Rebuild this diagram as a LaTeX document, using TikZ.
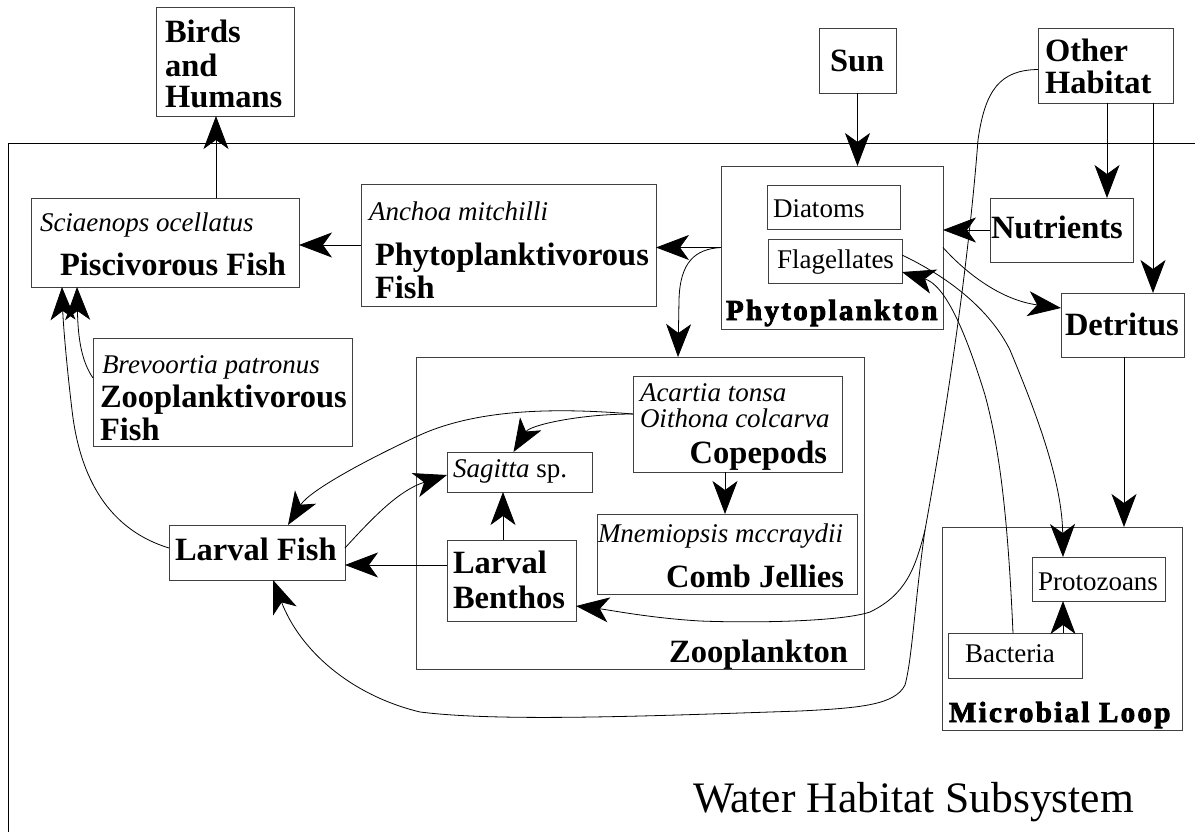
\documentclass[tikz,border=0pt]{standalone}
\usepackage{fontspec}
\setmainfont{Liberation Serif}
\newfontfamily\heavyfont{Liberation Serif}[FakeBold=3,LetterSpace=8]
\usetikzlibrary{arrows.meta}
\tikzset{
  box/.style={draw=black!75, line width=0.9pt, inner sep=0pt, outer sep=0pt},
  lbl/.style={anchor=base west, inner sep=0pt, outer sep=0pt},
  lble/.style={anchor=base east, inner sep=0pt, outer sep=0pt},
  bt/.style={font=\fontsize{32.5}{32}\selectfont\bfseries},
  it/.style={font=\fontsize{27}{27}\selectfont\itshape},
  rm/.style={font=\fontsize{27}{27}\selectfont},
  hv/.style={font=\heavyfont\bfseries\fontsize{29}{29}\selectfont},
  bigtip/.tip={Stealth[length=33pt 0 0,width=25pt 0 0,inset=9pt 0 0]},
  flow/.style={draw=black, line width=0.8pt, arrows={-bigtip}},
  frame/.style={draw=black, line width=0.9pt},
}
\begin{document}
\begin{tikzpicture}[x=1pt,y=-1pt]
\useasboundingbox (0,0) rectangle (1195,832);
% water habitat frame
\draw[frame] (8,832) -- (8,143) -- (1195,143);
\node[lbl, font=\fontsize{43.5}{43}\selectfont] (water) at (693,812) {Water Habitat Subsystem};

% boxes
\node[box, minimum width=138pt, minimum height=109pt] (birds) at (225,61.5) {};
\node[box, minimum width=77pt, minimum height=65pt] (sun) at (857.5,60.5) {};
\node[box, minimum width=135pt, minimum height=75pt] (other) at (1105.5,65.5) {};
\node[box, minimum width=268pt, minimum height=89pt] (pisc) at (165,242.5) {};
\node[box, minimum width=295pt, minimum height=122pt] (phytofish) at (508.5,245) {};
\node[box, minimum width=222pt, minimum height=163pt] (phyto) at (832,247.5) {};
\node[box, minimum width=133pt, minimum height=44pt] (diatoms) at (833.5,207) {};
\node[box, minimum width=134pt, minimum height=44pt] (flag) at (835,261) {};
\node[box, minimum width=143pt, minimum height=64pt] (nutr) at (1061.5,230) {};
\node[box, minimum width=123pt, minimum height=64pt] (detritus) at (1122.5,325) {};
\node[box, minimum width=259pt, minimum height=108pt] (zoofish) at (222.5,392) {};
\node[box, minimum width=448pt, minimum height=312pt] (zoopl) at (640,513) {};
\node[box, minimum width=209pt, minimum height=96pt] (cope) at (737.5,424) {};
\node[box, minimum width=145pt, minimum height=40pt] (sagitta) at (519.5,472) {};
\node[box, minimum width=260pt, minimum height=80pt] (comb) at (727,554) {};
\node[box, minimum width=129pt, minimum height=81pt] (benthos) at (511.5,580.5) {};
\node[box, minimum width=176pt, minimum height=55pt] (larvalfish) at (257,552.5) {};
\node[box, minimum width=240pt, minimum height=203pt] (microbial) at (1062,628.5) {};
\node[box, minimum width=133pt, minimum height=44pt] (proto) at (1098.5,579) {};
\node[box, minimum width=134pt, minimum height=45pt] (bacteria) at (1015,655.5) {};

% texts
\node[lbl, bt] (t-birds1) at (165,43) {Birds};
\node[lbl, bt] (t-birds2) at (165,77) {and};
\node[lbl, bt] (t-birds3) at (165,108) {Humans};
\node[lbl, bt] (t-sun) at (830,72) {Sun};
\node[lbl, bt] (t-other1) at (1045,62) {Other};
\node[lbl, bt] (t-other2) at (1045,94) {Habitat};
\node[lbl, it] (t-pisc1) at (40,232) {Sciaenops ocellatus};
\node[lbl, bt] (t-pisc2) at (60,275) {Piscivorous Fish};
\node[lbl, it] (t-pf1) at (369,220) {Anchoa mitchilli};
\node[lbl, bt] (t-pf2) at (375,265) {Phytoplanktivorous};
\node[lbl, bt] (t-pf3) at (375,298) {Fish};
\node[lbl, rm] (t-diat) at (773,218) {Diatoms};
\node[lbl, rm] (t-flag) at (777,269) {Flagellates};
\node[lbl, hv] (t-phyto) at (726,320) {Phytoplankton};
\node[lbl, bt] (t-nutr) at (991,238) {Nutrients};
\node[lbl, bt] (t-det) at (1065,335) {Detritus};
\node[lbl, it] (t-zf1) at (102,373) {Brevoortia patronus};
\node[lbl, bt] (t-zf2) at (100,407) {Zooplanktivorous};
\node[lbl, bt] (t-zf3) at (100,440) {Fish};
\node[lbl, it] (t-cope1) at (640,401) {Acartia tonsa};
\node[lbl, it] (t-cope2) at (640,427) {Oithona colcarva};
\node[lble, bt] (t-cope3) at (827,463) {Copepods};
\node[lbl, rm] (t-sag) at (453,477) {\textit{Sagitta} sp.};
\node[lbl, it] (t-comb1) at (598,542) {Mnemiopsis mccraydii};
\node[lble, bt] (t-comb2) at (844,587) {Comb Jellies};
\node[lbl, bt] (t-ben1) at (453,573) {Larval};
\node[lbl, bt] (t-ben2) at (453,608) {Benthos};
\node[lble, bt] (t-zoo) at (848,662) {Zooplankton};
\node[lbl, bt] (t-lf) at (175,560) {Larval Fish};
\node[lbl, rm] (t-proto) at (1038,590) {Protozoans};
\node[lbl, rm] (t-bact) at (965,662) {Bacteria};
\node[lbl, hv] (t-micro) at (949,722) {Microbial Loop};

% helper coordinates on borders
\coordinate (pn) at ([xshift=51pt]pisc.north);
\coordinate (oh1) at ([xshift=1.5pt]other.south);
\coordinate (oh2) at ([xshift=47.5pt]other.south);
\coordinate (bw) at ([yshift=15.5pt]benthos.west);
\coordinate (bn) at ([xshift=-8.5pt]benthos.north);
\coordinate (cs) at ([xshift=-12.5pt]cope.south);
\coordinate (ds) at ([xshift=1.5pt]detritus.south);
\coordinate (bt) at ([xshift=48pt]bacteria.north);
\coordinate (branch) at (925,530);

% straight connectors
\draw[flow] (pn) -- (pn |- birds.south);
\draw[flow] (phytofish.west) -- (phytofish.west -| pisc.east);
\draw[flow] (phyto.west) -- (phyto.west -| phytofish.east);
\draw[flow] (sun.south) -- (sun.south |- phyto.north);
\draw[flow] (oh1) -- (oh1 |- nutr.north);
\draw[flow] (oh2) -- (oh2 |- detritus.north);
\draw[flow] (nutr.west) -- (nutr.west -| phyto.east);
\draw[flow] (bw) -- (bw -| larvalfish.east);
\draw[flow] (bn) -- (bn |- sagitta.south);
\draw[flow] (cs) -- (cs |- comb.north);
\draw[flow] (ds) -- (ds |- microbial.north);
\draw[flow] (bt) -- (bt |- proto.south);

% curved connectors
\draw[flow] (phyto.west) .. controls (695,249) and (680,262) .. (679,300) -- ([xshift=38pt]zoopl.north);
\draw[flow] (phyto.east) .. controls (965,272) and (1000,300) .. ([yshift=17pt]detritus.west);
\draw[flow] ([yshift=6pt]flag.east) .. controls (950,278) and (990,310) .. (1010,350)
   .. controls (1035,410) and (1062,480) .. ([xshift=-35.5pt]proto.north);
\draw[flow] ([xshift=-2pt]bacteria.north) .. controls (1008,520) and (1000,450) .. (985,395)
   .. controls (965,330) and (945,285) .. ([yshift=-11pt]flag.east);
% other habitat -> larval fish / larval benthos
\draw[flow] ([yshift=-4pt]other.west) .. controls (1000,70) and (985,90) .. (978,140)
   .. controls (968,270) and (945,420) .. (branch)
   .. controls (915,600) and (912,660) .. (905,685)
   .. controls (895,705) and (860,708) .. (800,711)
   .. controls (650,716) and (500,722) .. (420,712)
   .. controls (350,695) and (300,650) .. ([xshift=16pt]larvalfish.south);
\draw[flow] (branch) .. controls (915,570) and (905,595) .. (870,612)
   .. controls (840,622) and (750,623) .. (700,621)
   .. controls (650,618) and (610,610) .. ([yshift=-25.5pt]benthos.east);
\draw[flow] ([yshift=10pt]cope.west) .. controls (560,408) and (480,408) .. (420,435)
   .. controls (370,458) and (310,490) .. ([xshift=31pt]larvalfish.north);
\draw[flow] ([yshift=10pt]cope.west) .. controls (580,414) and (530,425) .. ([xshift=-6pt]sagitta.north);
\draw[flow] ([yshift=4.5pt]larvalfish.east) .. controls (375,515) and (400,490) .. ([yshift=-3pt]sagitta.west);
\draw[flow] ([yshift=4.5pt]larvalfish.west) .. controls (110,530) and (80,480) .. (72,410)
   .. controls (66,360) and (63,320) .. ([xshift=-103pt]pisc.south);
\draw[flow] ([yshift=14pt]zoofish.west) .. controls (82,362) and (78,340) .. ([xshift=-88pt]pisc.south);
\end{tikzpicture}
\end{document}
